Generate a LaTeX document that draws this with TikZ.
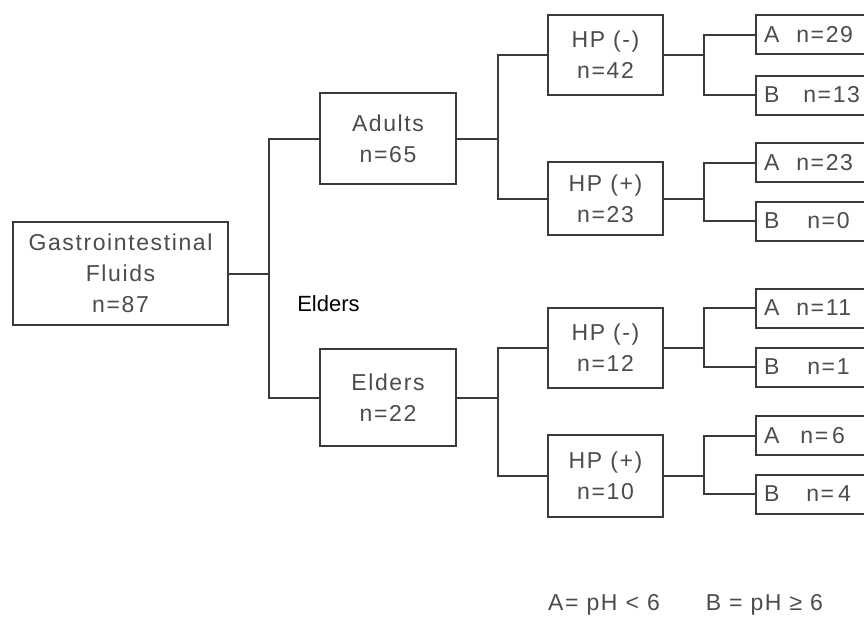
\documentclass[tikz,border=0pt]{standalone}
\usepackage{fontspec}
\setmainfont{Liberation Sans}
\newfontfamily\boxfont[LetterSpace=7]{Liberation Sans}
\usetikzlibrary{positioning}
\definecolor{linegray}{HTML}{3A3A3A}
\definecolor{textgray}{HTML}{4C4C4C}

\begin{document}
\begin{tikzpicture}[
            x=1pt, y=-1pt,
            box/.style={draw=linegray, line width=2pt, fill=white, align=center, text=textgray,
                        font=\boxfont\fontsize{23pt}{31pt}\selectfont, inner sep=0pt},
            leaf/.style={box, align=left, text width=116pt, inner xsep=8pt, minimum height=39pt},
            link/.style={draw=linegray, line width=2pt},
            note/.style={font=\fontsize{22pt}{25pt}\selectfont}
        ]
        \clip (0,0) rectangle (864,618);
        \fill[white] (0,0) rectangle (864,618);
        % root and age groups
        \node[box, minimum width=215pt, minimum height=103pt] (gastro) at (120.5,273.5) {Gastrointestinal\\Fluids\\n=87};
        \node[box, minimum width=136pt, minimum height=91pt] (adults) at (388,138.5) {Adults\\n=65};
        \node[box, minimum width=136pt, minimum height=97pt] (elders) at (388,397.5) {Elders\\n=22};
        \node[note, text=black] (elderlabel) at (328.5,304) {Elders};
        % HP status
        \node[box, minimum width=115pt, minimum height=80pt] (hpn1) at (605.5,55) {HP (-)\\n=42};
        \node[box, minimum width=115pt, minimum height=73pt] (hpp1) at (605.5,198.5) {HP (+)\\n=23};
        \node[box, minimum width=115pt, minimum height=80pt] (hpn2) at (605.5,348) {HP (-)\\n=12};
        \node[box, minimum width=115pt, minimum height=82pt] (hpp2) at (605.5,476) {HP (+)\\n=10};
        % pH groups
        \node[leaf] (an1) at (822,35) {A\hspace{17pt}n=29};
        \node[leaf] (bn1) at (822,95) {B\hspace{24pt}n=13};
        \node[leaf] (ap1) at (822,162.5) {A\hspace{17pt}n=23};
        \node[leaf] (bp1) at (822,221) {B\hspace{28pt}n=0};
        \node[leaf] (an2) at (822,308) {A\hspace{17pt}n=11};
        \node[leaf] (bn2) at (822,367) {B\hspace{28pt}n=1};
        \node[leaf] (ap2) at (822,435.5) {A\hspace{21pt}n=\hspace{4pt}6};
        \node[leaf] (bp2) at (822,494) {B\hspace{27pt}n=\hspace{4pt}4};
        % connectors
        \draw[link] (gastro.east) -- ++(40,0) coordinate (jg);
        \draw[link] (adults.west) -| (jg) |- (elders.west);
        \draw[link] (adults.east) -- ++(41,0) coordinate (ja);
        \draw[link] (hpn1.west) -| (ja) |- (hpp1.west);
        \draw[link] (elders.east) -- ++(41,0) coordinate (je);
        \draw[link] (hpn2.west) -| (je) |- (hpp2.west);
        \draw[link] (hpn1.east) -- ++(40,0) coordinate (jn1);
        \draw[link] (an1.west) -| (jn1) |- (bn1.west);
        \draw[link] (hpp1.east) -- ++(40,0) coordinate (jp1);
        \draw[link] (ap1.west) -| (jp1) |- (bp1.west);
        \draw[link] (hpn2.east) -- ++(40,0) coordinate (jn2);
        \draw[link] (an2.west) -| (jn2) |- (bn2.west);
        \draw[link] (hpp2.east) -- ++(40,0) coordinate (jp2);
        \draw[link] (ap2.west) -| (jp2) |- (bp2.west);
        % legend
        \node[box, draw=none, fill=none] (legenda) at (604,605) {A= pH < 6};
        \node[box, draw=none, fill=none, right=44pt of legenda] (legendb) {B = pH ≥ 6};
        \end{tikzpicture}
\end{document}
